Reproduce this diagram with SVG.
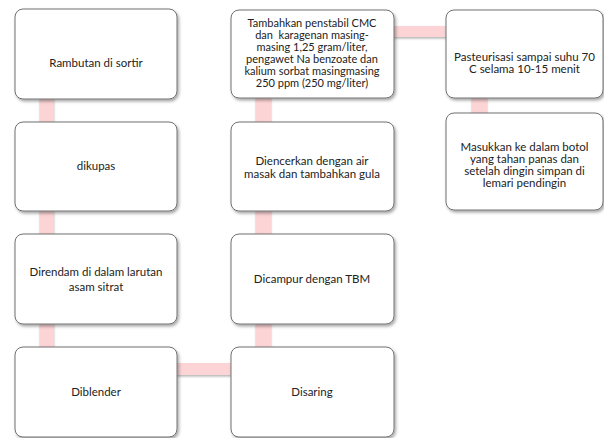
<svg xmlns="http://www.w3.org/2000/svg" width="604" height="438" viewBox="0 0 604 438">
<defs>
<filter id="sh" x="-10%" y="-10%" width="125%" height="130%">
<feDropShadow dx="1.5" dy="2" stdDeviation="1.5" flood-color="#000" flood-opacity="0.35"/>
</filter>
<filter id="csh" x="-20%" y="-20%" width="140%" height="160%">
<feDropShadow dx="0" dy="1.5" stdDeviation="0.8" flood-color="#000" flood-opacity="0.3"/>
</filter>
<style>
.box{fill:#fff;stroke:#707070;stroke-width:1;filter:url(#sh)}
.con{fill:#fcd4d6;filter:url(#csh)}
text{font-family:Lato,"Liberation Sans",sans-serif;font-size:11.5px;fill:#222;text-anchor:middle}
.sm{font-size:11px}
</style>
</defs>
<rect width="604" height="438" fill="#fff"/>
<g id="connectors">
<rect class="con" x="40" y="98" width="14" height="26"/>
<rect class="con" x="40" y="210" width="14" height="26"/>
<rect class="con" x="40" y="323" width="14" height="26"/>
<rect class="con" x="176" y="363" width="56" height="12"/>
<rect class="con" x="256" y="323" width="15" height="26"/>
<rect class="con" x="256" y="210" width="15" height="26"/>
<rect class="con" x="256" y="97" width="15" height="26"/>
<rect class="con" x="393" y="26" width="55" height="11"/>
<rect class="con" x="472" y="97" width="15" height="18"/>
</g>
<g id="n1"><rect class="box" x="15" y="9" width="162" height="90" rx="8"/><text x="96" y="67">Rambutan di sortir</text></g>
<g id="n2"><rect class="box" x="15" y="122" width="162" height="89" rx="8"/><text x="96" y="170">dikupas</text></g>
<g id="n3"><rect class="box" x="15" y="234" width="162" height="90" rx="8"/><text x="96" y="276">Direndam di dalam larutan</text><text x="96" y="291">asam sitrat</text></g>
<g id="n4"><rect class="box" x="15" y="347" width="162" height="90" rx="8"/><text x="96" y="396">Diblender</text></g>
<g id="n5"><rect class="box" x="231" y="347" width="163" height="90" rx="8"/><text x="312" y="396">Disaring</text></g>
<g id="n6"><rect class="box" x="231" y="234" width="163" height="90" rx="8"/><text x="312" y="283">Dicampur dengan TBM</text></g>
<g id="n7"><rect class="box" x="231" y="122" width="163" height="89" rx="8"/><text x="312" y="165">Diencerkan dengan air</text><text x="312" y="178">masak dan tambahkan gula</text></g>
<g id="n8"><rect class="box" x="231" y="10" width="163" height="88" rx="8"/>
<text class="sm" x="312" y="27">Tambahkan penstabil CMC</text>
<text class="sm" x="312" y="39" xml:space="preserve">dan  karagenan masing-</text>
<text class="sm" x="312" y="51">masing 1,25 gram/liter,</text>
<text class="sm" x="312" y="63">pengawet Na benzoate dan</text>
<text class="sm" x="312" y="75">kalium sorbat masingmasing</text>
<text class="sm" x="312" y="87">250 ppm (250 mg/liter)</text></g>
<g id="n9"><rect class="box" x="446" y="10" width="157" height="88" rx="8"/><text x="524.5" y="61">Pasteurisasi sampai suhu 70</text><text x="524.5" y="73">C selama 10-15 menit</text></g>
<g id="n10"><rect class="box" x="446" y="113" width="157" height="97" rx="8"/>
<text x="524.5" y="151">Masukkan ke dalam botol</text>
<text x="524.5" y="163">yang tahan panas dan</text>
<text x="524.5" y="175">setelah dingin simpan di</text>
<text x="524.5" y="187">lemari pendingin</text></g>
</svg>
